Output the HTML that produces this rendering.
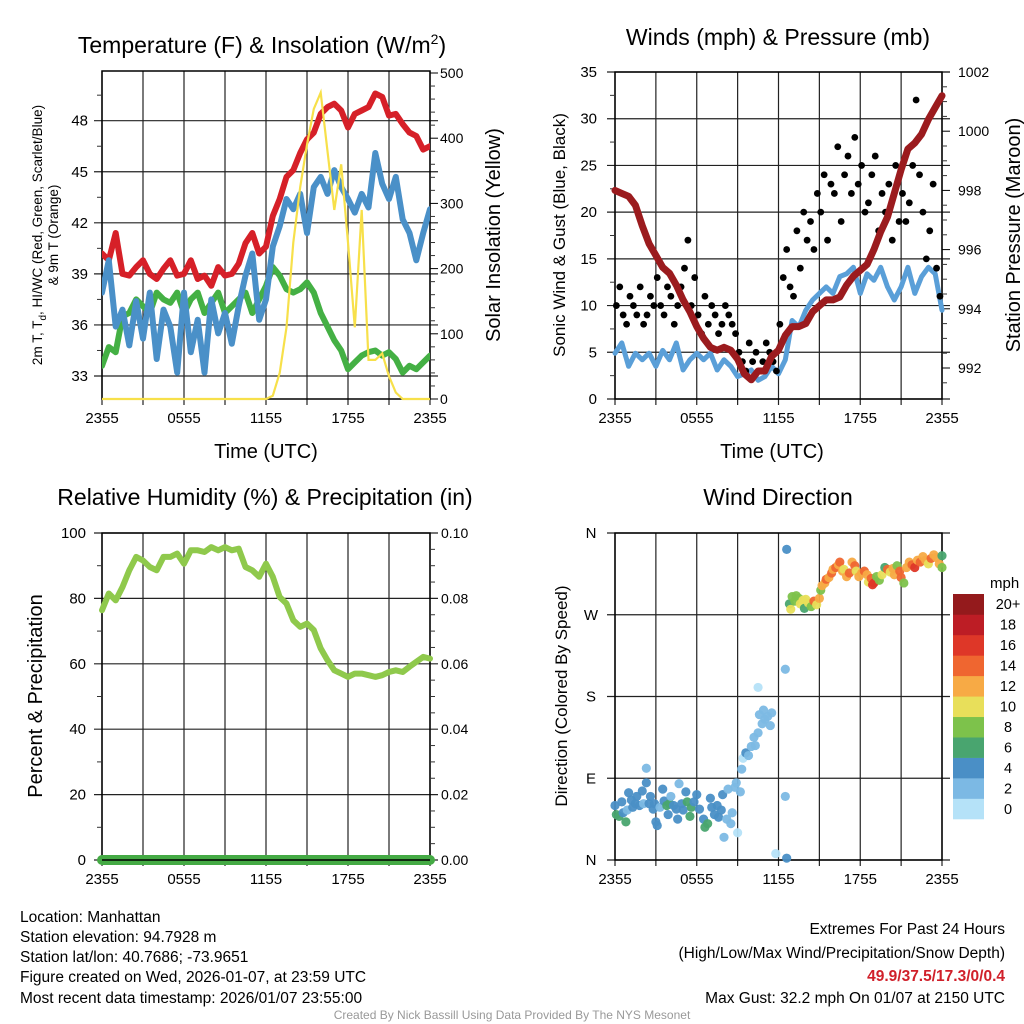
<!DOCTYPE html>
<html><head><meta charset="utf-8"><style>
body{margin:0;background:#fff}
svg{display:block;font-family:"Liberation Sans",sans-serif}
</style></head><body>
<svg id="chart" width="1024" height="1024" viewBox="0 0 1024 1024" xmlns="http://www.w3.org/2000/svg">
<rect width="1024" height="1024" fill="#fff"/>
<g id="layer"></g>
<g font-size="15.5" fill="#000">
<text x="20" y="922">Location: Manhattan</text>
<text x="20" y="942">Station elevation: 94.7928 m</text>
<text x="20" y="962">Station lat/lon: 40.7686; -73.9651</text>
<text x="20" y="982">Figure created on Wed, 2026-01-07, at 23:59 UTC</text>
<text x="20" y="1003">Most recent data timestamp: 2026/01/07 23:55:00</text>
</g>
<g font-size="15.5" text-anchor="end">
<text x="1005" y="934">Extremes For Past 24 Hours</text>
<text x="1005" y="958">(High/Low/Max Wind/Precipitation/Snow Depth)</text>
<text x="1005" y="981" fill="#d0202a" font-weight="bold">49.9/37.5/17.3/0/0.4</text>
<text x="1005" y="1003">Max Gust: 32.2 mph On 01/07 at 2150 UTC</text>
</g>
<text x="512" y="1019" font-size="12" fill="#999" text-anchor="middle">Created By Nick Bassill Using Data Provided By The NYS Mesonet</text>
</svg>
<script>
// ---------- data ----------
const hourLabels = ["2355","0555","1155","1755","2355"];
const tempRed = [40.2,39.8,41.4,39.0,38.9,39.4,39.8,39.0,38.7,39.3,39.8,38.9,39.0,39.8,38.7,38.9,38.3,39.4,38.9,39.0,39.6,40.8,41.4,40.2,40.6,42.4,43.4,44.7,45.1,46.1,46.9,47.3,48.4,48.8,49.0,48.6,47.6,48.4,48.6,48.8,49.6,49.4,48.3,48.4,47.8,47.3,47.1,46.3,46.5];
const tempBlue = [37.9,39.8,35.9,36.9,34.8,37.4,35.2,37.9,34.0,36.9,35.9,33.2,37.9,34.4,36.3,33.2,37.5,35.5,36.7,34.9,37.1,38.9,40.2,36.3,37.5,40.6,41.8,43.4,42.8,43.7,41.4,44.1,44.7,43.7,45.1,44.1,43.4,42.6,43.7,42.9,46.1,44.3,43.4,44.7,42.2,41.4,39.8,41.4,42.8];
const tempGreen = [33.6,34.7,34.4,36.5,36.7,37.5,37.1,36.7,37.9,37.5,37.3,37.9,36.7,37.5,37.9,36.7,37.3,37.9,36.7,37.1,37.5,37.9,36.7,37.5,38.3,39.4,38.9,38.1,37.9,38.1,38.5,37.9,36.7,35.9,35.1,34.5,33.4,33.8,34.2,34.4,34.5,34.2,34.4,34.0,33.2,33.6,33.4,33.8,34.2];
const solar = [0,0,0,0,0,0,0,0,0,0,0,0,0,0,0,0,0,0,0,0,0,0,0,0,0,5,40,110,240,325,390,445,470,380,290,360,240,110,290,60,60,70,35,10,0,0,0,0,0];
const sonicWind = [4.9,6.0,3.5,4.9,4.2,4.9,3.5,5.2,4.2,6.0,3.1,4.2,4.9,4.2,4.9,3.1,4.2,3.5,2.4,2.7,3.1,2.0,2.4,3.5,2.7,4.2,8.4,7.7,9.5,10.6,11.3,12.0,11.3,13.1,13.4,14.1,11.3,13.4,12.7,14.1,12.0,10.6,12.0,14.1,11.3,13.1,14.1,13.4,9.5];
const pressure = [998.0,997.9,997.8,997.5,996.8,996.2,995.8,995.4,995.2,994.8,994.3,993.9,993.4,993.0,992.7,992.6,992.7,992.6,992.3,991.8,991.6,991.9,991.9,992.4,992.6,993.1,993.4,993.4,993.5,993.9,994.1,994.3,994.3,994.4,994.8,995.1,995.3,995.5,996.0,996.6,997.1,997.9,998.7,999.4,999.6,999.9,1000.4,1000.8,1001.2];
const gusts = [10,12,9,8,11,10,9,12,8,9,11,10,13,10,9,12,11,8,10,12,14,17,10,13,
9,7,11,8,10,9,7,8,10,9,8,7,
5,4,3,6,4,5,3,4,6,5,4,3,
8,13,16,12,11,18,14,20,17,19,16,22,
20,24,17,23,22,27,19,24,26,22,28,23,
25,20,21,24,26,18,22,20,23,17,25,19,
22,19,21,25,32,24,20,15,18,23,14,11];
const rh = [76.4,81.5,79.4,83.5,88.6,92.7,91.6,89.6,88.6,92.7,92.7,93.7,90.6,94.7,94.7,94.2,95.7,94.7,95.7,94.7,95.2,89.6,88.6,86.6,90.6,86.6,80.4,78.4,73.3,71.3,72.3,70.3,64.7,61.1,58.0,57.0,56.0,57.0,57.0,56.5,56.0,56.5,57.5,58.0,57.5,59.1,60.6,62.1,61.6];
const precip = [0,0,0,0,0,0,0,0,0,0,0,0,0];
const dirHours = [0.0,0.1,0.3,0.5,0.6,0.8,0.9,1.0,1.2,1.3,1.5,1.6,1.8,2.0,2.1,2.3,2.3,2.5,2.6,2.8,2.9,3.0,3.1,3.3,3.5,3.6,3.8,3.9,4.0,4.1,4.3,4.5,4.6,4.7,4.9,5.0,5.2,5.3,5.5,5.6,5.8,6.0,6.2,6.5,6.6,6.8,7.0,7.1,7.3,7.5,7.6,7.8,7.9,8.0,8.2,8.3,8.5,8.6,8.8,8.9,9.0,9.2,9.3,9.4,9.6,9.8,10.0,10.2,10.3,10.5,10.6,10.8,10.9,11.0,11.2,11.4,11.5,11.8,10.5,12.5,12.5,12.6,12.6,
12.8,12.9,13.0,13.2,13.3,13.5,13.6,13.8,13.9,14.0,14.2,14.4,14.6,14.8,15.0,15.1,15.2,15.4,15.5,15.7,15.9,16.0,16.2,16.4,16.5,16.7,16.8,17.0,17.2,17.4,17.6,17.7,17.9,18.1,18.3,18.5,18.6,18.8,18.9,19.0,19.2,19.4,19.6,19.8,20.0,20.2,20.4,20.5,20.7,20.9,21.0,21.2,21.4,21.6,21.8,22.0,22.2,22.4,22.6,22.8,23.0,23.2,23.4,23.6,23.8,24.0,24.0];
const dirDegs = [60,50,48,64,52,42,55,74,66,58,62,70,60,76,62,101,85,62,70,56,62,42,38,58,78,65,60,50,62,70,60,56,45,84,62,55,75,64,48,58,64,72,56,45,36,40,68,58,50,60,47,55,72,25,45,78,40,52,80,85,30,75,100,112,118,115,125,135,126,140,160,150,165,155,158,148,162,7,190,210,70,2,342,
282,276,290,285,291,288,282,286,277,287,283,279,285,281,288,297,302,305,309,311,316,320,322,325,328,318,320,312,316,328,324,318,312,316,318,314,306,310,303,305,312,308,314,322,320,317,321,314,324,318,311,305,322,328,325,322,330,328,334,330,326,332,336,333,326,335,322];
const dirSpeeds = [4,6,7,4,5,6,3,4,4,5,4,4,4,4,3,3,4,4,4,4,4,4,4,3,4,5,7,5,6,3,4,4,4,3,4,4,4,6,6,7,4,4,4,5,6,7,4,5,4,4,4,4,4,3,2,2,2,2,2,2,1,2,2,1,4,2,2,3,2,2,2,2,2,2,2,2,2,1,1,2,2,4,4,
6,10,8,8,8,8,10,10,6,10,10,8,14,10,12,8,12,12,14,12,14,12,14,12,14,12,10,12,14,12,14,10,12,12,14,12,10,14,16,16,8,8,10,6,14,10,12,12,8,14,14,8,12,12,14,16,12,14,12,12,10,14,12,12,12,6,8];
const speedLabels = ["0","2","4","6","8","10","12","14","16","18","20+"];
const speedColors = ["#b5e2f8","#7cb9e4","#4a8fc6","#49a56f","#7dc24b","#e8df5a","#f7aa45","#ef6630","#de3728","#bd1d25","#941a1c"];

// ---------- helpers ----------
const NS = "http://www.w3.org/2000/svg";
const layer = document.getElementById('layer');
function mk(tag, attrs, parent) {
  const e = document.createElementNS(NS, tag);
  for (const k in attrs) e.setAttribute(k, attrs[k]);
  (parent || layer).appendChild(e);
  return e;
}
function lin(d0, d1, r0, r1) { return v => r0 + (v - d0) * (r1 - r0) / (d1 - d0); }
function linePath(xs, ys) { return xs.map((x, i) => (i ? 'L' : 'M') + x.toFixed(1) + ' ' + ys[i].toFixed(1)).join(''); }

function frame(P, g) {
  for (let h = 0; h <= 24; h += 3) {
    const x = P.x(h);
    const ln = mk('line', {x1: x, y1: P.t, x2: x, y2: P.b + 6, stroke: '#222', 'stroke-width': 1.2}, g);
    
    
  }
  hourLabels.forEach((s, i) => {
    const t = mk('text', {x: P.x(i * 6), y: P.b + 24, 'font-size': 15, 'text-anchor': 'middle'}, g);
    t.textContent = s;
    
    
  });
  mk('rect', {x: P.l, y: P.t, width: P.r - P.l, height: P.b - P.t, fill: 'none', stroke: '#000', 'stroke-width': 1.5}, g);
}
function hGrid(P, g, ys) {
  ys.forEach(y => {
    const ln = mk('line', {x1: P.l - 8, y1: y, x2: P.r + 8, y2: y, stroke: '#222', 'stroke-width': 1.2}, g);
    
    
  });
}
function label(g, x, y, s, size, anchor, name, rot) {
  const t = mk('text', {x: x, y: y, 'font-size': size, 'text-anchor': anchor || 'middle'}, g);
  if (rot) t.setAttribute('transform', 'rotate(-90 ' + x + ' ' + y + ')');
  t.textContent = s;
  
  
  return t;
}
function minorTicks(g, x, dir, ys) {
  ys.forEach(y => mk('line', {x1: x, y1: y, x2: x + dir * 5, y2: y, stroke: '#333', 'stroke-width': 1}, g));
}
const halfHours = tempRed.map((_, i) => i * 0.5);

// ---------- panel 1: temperature ----------
{
  const g = mk('g', {});
  
  
  const P = {l: 102, r: 430, t: 71, b: 399};
  P.x = lin(0, 24, P.l, P.r);
  const yT = lin(33, 48, 376, 120.7);
  const yS = lin(0, 500, 399, 73);
  const tTicks = [33, 36, 39, 42, 45, 48];
  hGrid(P, g, tTicks.map(yT));
  frame(P, g);
  tTicks.forEach(v => label(g, 88, yT(v) + 5, String(v), 15, 'end', 'y-tick-label'));
  minorTicks(g, P.l, -1, [34.5, 37.5, 40.5, 43.5, 46.5, 49.5].map(yT));
  [0, 100, 200, 300, 400, 500].forEach(v => {
    mk('line', {x1: P.r, y1: yS(v), x2: P.r + 8, y2: yS(v), stroke: '#000'}, g);
    label(g, 440, yS(v) + 5, String(v), 14, 'start', 'y2-tick-label');
  });
  minorTicks(g, P.r, 1, [20,40,60,80,120,140,160,180,220,240,260,280,320,340,360,380,420,440,460,480].map(yS));
  const clip = mk('clipPath', {id: 'c1'}, g);
  mk('rect', {x: P.l, y: P.t - 2, width: P.r - P.l, height: P.b - P.t + 4}, clip);
  const series = [[tempGreen, '#44b044', 'dewpoint-line'], [tempRed, '#d62028', 'temperature-line'], [tempBlue, '#4a90c8', 'windchill-line']];
  series.forEach(s => {
    const p = mk('path', {d: linePath(halfHours.map(P.x), s[0].map(yT)), fill: 'none', stroke: s[1], 'stroke-width': 6, 'stroke-linejoin': 'round', 'stroke-linecap': 'round', 'clip-path': 'url(#c1)'}, g);
    
    
  });
  const ps = mk('path', {d: linePath(halfHours.map(P.x), solar.map(yS)), fill: 'none', stroke: '#f7e04a', 'stroke-width': 2.2, 'clip-path': 'url(#c1)'}, g);
  
  
  const ti = label(g, 262, 53, 'Temperature (F) & Insolation (W/m', 23, 'middle', 'chart-title');
  const sup = mk('tspan', {dy: -9, 'font-size': 14}, ti); sup.textContent = '2';
  const cl = mk('tspan', {dy: 9}, ti); cl.textContent = ')';
  label(g, 266, 458, 'Time (UTC)', 20, 'middle', 'x-axis-title');
  const yl = label(g, 42, 235, '2m T, T', 13.5, 'middle', 'y-axis-title', true);
  const sb = mk('tspan', {dy: 4, 'font-size': 10}, yl); sb.textContent = 'd';
  const rest = mk('tspan', {dy: -4}, yl); rest.textContent = ', HI/WC (Red, Green, Scarlet/Blue)';
  label(g, 58, 235, '& 9m T (Orange)', 13.5, 'middle', 'y-axis-title-2', true);
  label(g, 500, 235, 'Solar Insolation (Yellow)', 20, 'middle', 'y2-axis-title', true);
}

// ---------- panel 2: winds ----------
{
  const g = mk('g', {});
  
  
  const P = {l: 615, r: 942, t: 72, b: 399};
  P.x = lin(0, 24, P.l, P.r);
  const yW = lin(0, 35, 399, 72);
  const yP = lin(992, 1002, 368, 72);
  const wTicks = [0, 5, 10, 15, 20, 25, 30, 35];
  hGrid(P, g, wTicks.map(yW));
  frame(P, g);
  wTicks.forEach(v => label(g, 597, yW(v) + 5, String(v), 15, 'end', 'y-tick-label'));
  minorTicks(g, P.l, -1, [2.5,7.5,12.5,17.5,22.5,27.5,32.5].map(yW));
  [992, 994, 996, 998, 1000, 1002].forEach(v => {
    mk('line', {x1: P.r, y1: yP(v), x2: P.r + 8, y2: yP(v), stroke: '#000'}, g);
    label(g, 958, yP(v) + 5, String(v), 14, 'start', 'y2-tick-label');
  });
  minorTicks(g, P.r, 1, [991.5,992.5,993,993.5,994.5,995,995.5,996.5,997,997.5,998.5,999,999.5,1000.5,1001,1001.5].map(yP));
  const pw = mk('path', {d: linePath(halfHours.map(P.x), sonicWind.map(yW)), fill: 'none', stroke: '#5a9fd8', 'stroke-width': 5, 'stroke-linejoin': 'round', 'stroke-linecap': 'round'}, g);
  
  
  gusts.forEach((v, i) => {
    const c = mk('circle', {cx: P.x(i * 0.25 + 0.1), cy: yW(v), r: 3.4, fill: '#000'}, g);
    
    
  });
  const pp = mk('path', {d: linePath(halfHours.map(P.x), pressure.map(yP)), fill: 'none', stroke: '#9b1b1e', 'stroke-width': 7, 'stroke-linejoin': 'round', 'stroke-linecap': 'round'}, g);
  
  
  label(g, 778, 45, 'Winds (mph) & Pressure (mb)', 23, 'middle', 'chart-title');
  label(g, 772, 458, 'Time (UTC)', 20, 'middle', 'x-axis-title');
  label(g, 565, 235, 'Sonic Wind & Gust (Blue, Black)', 17, 'middle', 'y-axis-title', true);
  label(g, 1020, 235, 'Station Pressure (Maroon)', 20, 'middle', 'y2-axis-title', true);
}

// ---------- panel 3: RH ----------
{
  const g = mk('g', {});
  
  
  const P = {l: 102, r: 430, t: 533, b: 860};
  P.x = lin(0, 24, P.l, P.r);
  const yR = lin(0, 100, 860, 533);
  const yQ = lin(0, 0.1, 860, 533);
  const rTicks = [0, 20, 40, 60, 80, 100];
  hGrid(P, g, rTicks.map(yR));
  frame(P, g);
  rTicks.forEach(v => label(g, 86, yR(v) + 5, String(v), 15, 'end', 'y-tick-label'));
  minorTicks(g, P.l, -1, [10, 30, 50, 70, 90].map(yR));
  [0, 0.02, 0.04, 0.06, 0.08, 0.10].forEach(v => label(g, 441, yQ(v) + 5, v.toFixed(2), 14, 'start', 'y2-tick-label'));
  minorTicks(g, P.r, 1, [0.01,0.015,0.025,0.03,0.035,0.045,0.05,0.055,0.065,0.07,0.075,0.085,0.09,0.095,0.005].map(yQ));
  const pq = mk('path', {d: linePath(precip.map((_, i) => P.x(i * 2)), precip.map(yQ)), fill: 'none', stroke: '#44aa44', 'stroke-width': 10, 'stroke-linecap': 'round'}, g);
  
  
  mk('line', {x1: P.l, y1: P.b, x2: P.r, y2: P.b, stroke: '#000', 'stroke-width': 1.5}, g);
  const pr = mk('path', {d: linePath(halfHours.map(P.x), rh.map(yR)), fill: 'none', stroke: '#8fc94c', 'stroke-width': 6, 'stroke-linejoin': 'round', 'stroke-linecap': 'round'}, g);
  
  
  label(g, 265, 505, 'Relative Humidity (%) & Precipitation (in)', 23, 'middle', 'chart-title');
  label(g, 42, 696, 'Percent & Precipitation', 20, 'middle', 'y-axis-title', true);
}

// ---------- panel 4: wind direction ----------
{
  const g = mk('g', {});
  
  
  const P = {l: 615, r: 942, t: 533, b: 860};
  P.x = lin(0, 24, P.l, P.r);
  const yD = lin(0, 360, 860, 533);
  const dTicks = [0, 90, 180, 270, 360], dLabels = ['N', 'E', 'S', 'W', 'N'];
  hGrid(P, g, dTicks.map(yD));
  frame(P, g);
  dTicks.forEach((v, i) => label(g, 591, yD(v) + 5, dLabels[i], 15, 'middle', 'y-tick-label'));
  dirHours.forEach((h, i) => {
    const bin = Math.max(0, Math.min(10, Math.floor(dirSpeeds[i] / 2)));
    const c = mk('circle', {cx: P.x(h), cy: yD(dirDegs[i]), r: 4.6, fill: speedColors[bin], 'fill-opacity': 0.95}, g);
    
    
  });
  label(g, 778, 505, 'Wind Direction', 23, 'middle', 'chart-title');
  label(g, 567, 696, 'Direction (Colored By Speed)', 17, 'middle', 'y-axis-title', true);
  const lg = mk('g', {}, g);
  
  
  label(lg, 990, 588, 'mph', 15, 'start', 'colorbar-title');
  const bh = 225 / 11;
  speedLabels.forEach((s, i) => {
    const y = 594 + (10 - i) * bh;
    const r = mk('rect', {x: 953, y: y, width: 31, height: bh + 0.3, fill: speedColors[i]}, lg);
    
    
    label(lg, 1008, y + bh / 2 + 5, s, 14.5, 'middle', 'colorbar-label');
  });
}
</script>
</body></html>
